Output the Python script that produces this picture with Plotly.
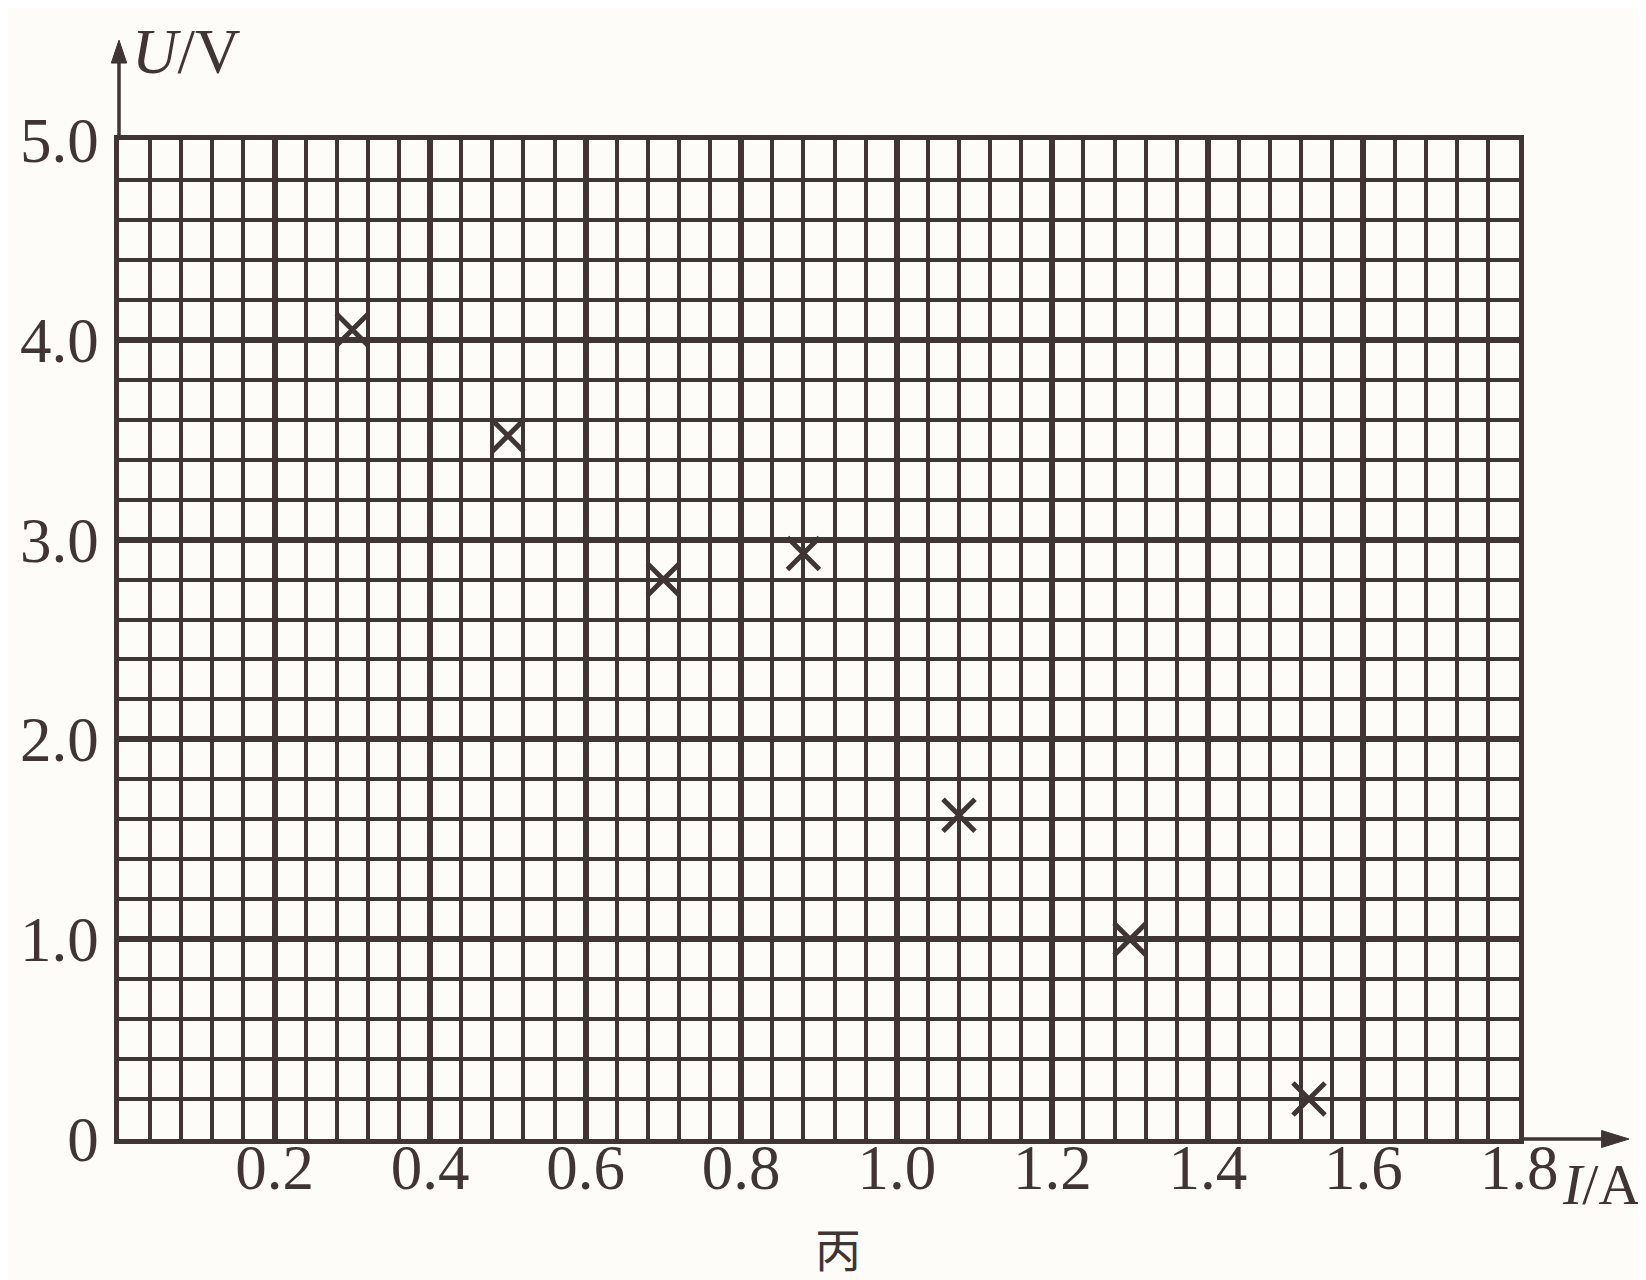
import plotly.graph_objects as go

# ---- data ----
current_I = [0.30, 0.50, 0.70, 0.88, 1.08, 1.30, 1.53]
voltage_U = [4.05, 3.52, 2.80, 2.93, 1.62, 1.00, 0.20]

x_tick_vals = [0.2, 0.4, 0.6, 0.8, 1.0, 1.2, 1.4, 1.6, 1.8]
x_tick_text = ["0.2", "0.4", "0.6", "0.8", "1.0", "1.2", "1.4", "1.6", "1.8"]
y_tick_vals = [0, 1, 2, 3, 4, 5]
y_tick_text = ["0", "1.0", "2.0", "3.0", "4.0", "5.0"]

INK = "#403535"
BG = "#fdfcf9"
FONT = "Liberation Serif"
FS = 63

fig = go.Figure()
fig.add_trace(go.Scatter(
    x=current_I, y=voltage_U, mode="markers",
    marker=dict(symbol="x-thin-open", size=32, line=dict(width=5, color=INK), color=INK),
    showlegend=False, hoverinfo="skip", cliponaxis=False,
))

axis_common = dict(
    showline=True, linecolor=INK, linewidth=4.5, mirror=True,
    gridcolor=INK, gridwidth=6, zeroline=False,
    ticks="", tickfont=dict(family=FONT, size=FS, color=INK),
    fixedrange=True,
)

fig.update_xaxes(
    range=[0, 1.8], tickmode="array", tickvals=x_tick_vals, ticktext=x_tick_text,
    minor=dict(tickmode="linear", tick0=0, dtick=0.04, showgrid=True, gridcolor=INK, gridwidth=3.5),
    ticklabelstandoff=-30,
    **axis_common,
)
fig.update_yaxes(
    range=[0, 5], tickmode="array", tickvals=y_tick_vals, ticktext=y_tick_text,
    minor=dict(tickmode="linear", tick0=0, dtick=0.2, showgrid=True, gridcolor=INK, gridwidth=3.5),
    ticklabelstandoff=3,
    **axis_common,
)

shapes = [
    # y axis extension + arrowhead
    dict(type="line", xref="paper", yref="paper", x0=0, y0=1, x1=0, y1=1.085,
         line=dict(color=INK, width=3.5)),
    dict(type="path", xref="paper", yref="paper",
         path="M -0.0055,1.077 L 0,1.100 L 0.0055,1.077 Z", fillcolor=INK, line=dict(color=INK, width=1)),
    # x axis extension + arrowhead
    dict(type="line", xref="paper", yref="paper", x0=1, y0=0, x1=1.065, y1=0,
         line=dict(color=INK, width=3.5)),
    dict(type="path", xref="paper", yref="paper",
         path="M 1.059,-0.0085 L 1.0786,0 L 1.059,0.0085 Z", fillcolor=INK, line=dict(color=INK, width=1)),
]

annotations = [
    dict(text="<i>U</i>/V", xref="paper", yref="paper", x=0.008, y=1.088,
         xanchor="left", yanchor="middle", showarrow=False,
         font=dict(family=FONT, size=FS, color=INK)),
    dict(text="<i>I</i>/A", xref="paper", yref="paper", x=1.029, y=-0.046,
         xanchor="left", yanchor="middle", showarrow=False,
         font=dict(family=FONT, size=58, color=INK)),
    dict(text="丙", xref="paper", yref="paper", x=0.5136, y=-0.108,
         xanchor="center", yanchor="middle", showarrow=False,
         font=dict(family="Noto Sans CJK SC", size=46, color=INK)),
]

fig.update_layout(
    width=1646, height=1280, autosize=False,
    margin=dict(l=111, r=135, t=132, b=149),
    paper_bgcolor=BG, plot_bgcolor=BG,
    shapes=shapes, annotations=annotations,
    showlegend=False,
)

fig.write_html("out.html")
